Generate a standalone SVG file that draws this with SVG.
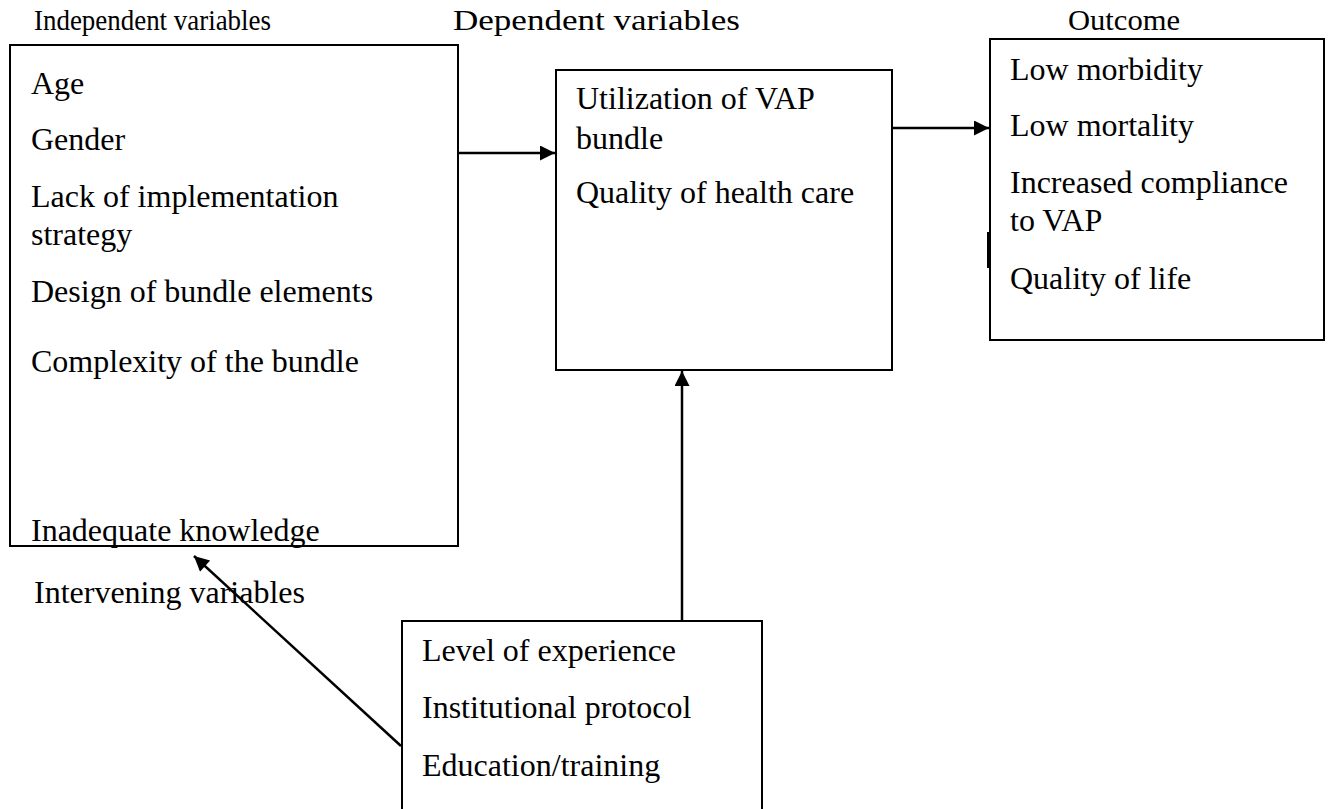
<svg xmlns="http://www.w3.org/2000/svg" width="1333" height="809" viewBox="0 0 1333 809">
<style>
text{font-family:"Liberation Serif","Times New Roman",serif;fill:#000}
.h{font-size:30px}
.t{font-size:32px}
.box{fill:#fff;stroke:#000;stroke-width:2}
.c{stroke:#000;stroke-width:2.5;fill:none}
</style>
<defs>
<marker id="ah" viewBox="0 0 10 10" refX="10" refY="5" markerWidth="7.5" markerHeight="6" markerUnits="strokeWidth" orient="auto">
<path d="M0,0 L10,5 L0,10 z" fill="#000"/>
</marker>
</defs>
<rect width="1333" height="809" fill="#fff"/>
<g id="headers">
<text class="h" x="34" y="30" textLength="237" lengthAdjust="spacingAndGlyphs">Independent variables</text>
<text class="h" x="453" y="30" textLength="287" lengthAdjust="spacingAndGlyphs">Dependent variables</text>
<text class="h" x="1068" y="30" textLength="112" lengthAdjust="spacingAndGlyphs">Outcome</text>
<text class="t" x="34" y="603">Intervening variables</text>
</g>
<g id="independent">
<rect class="box" x="10" y="45" width="448" height="501"/>
<text class="t" x="31" y="94">Age</text>
<text class="t" x="31" y="150">Gender</text>
<text class="t" x="31" y="207">Lack of implementation</text>
<text class="t" x="31" y="245">strategy</text>
<text class="t" x="31" y="302">Design of bundle elements</text>
<text class="t" x="31" y="372">Complexity of the bundle</text>
<text class="t" x="31" y="541">Inadequate knowledge</text>
</g>
<g id="dependent">
<rect class="box" x="556" y="70" width="336" height="300"/>
<text class="t" x="576" y="109">Utilization of VAP</text>
<text class="t" x="576" y="149">bundle</text>
<text class="t" x="576" y="203">Quality of health care</text>
</g>
<g id="outcome">
<rect class="box" x="990" y="39" width="334" height="301"/>
<line x1="988" y1="232" x2="988" y2="268" stroke="#000" stroke-width="2"/>
<text class="t" x="1010" y="80">Low morbidity</text>
<text class="t" x="1010" y="136">Low mortality</text>
<text class="t" x="1010" y="193">Increased compliance</text>
<text class="t" x="1010" y="231">to VAP</text>
<text class="t" x="1010" y="289">Quality of life</text>
</g>
<g id="intervening">
<rect class="box" x="402" y="621" width="360" height="200"/>
<text class="t" x="422" y="661">Level of experience</text>
<text class="t" x="422" y="718">Institutional protocol</text>
<text class="t" x="422" y="776">Education/training</text>
</g>
<g id="connectors">
<line class="c" x1="458" y1="153" x2="555" y2="153" marker-end="url(#ah)"/>
<line class="c" x1="892" y1="128" x2="989" y2="128" marker-end="url(#ah)"/>
<line class="c" x1="682" y1="620" x2="682" y2="371" marker-end="url(#ah)"/>
<line class="c" x1="401" y1="746" x2="194" y2="556" marker-end="url(#ah)"/>
</g>
</svg>
